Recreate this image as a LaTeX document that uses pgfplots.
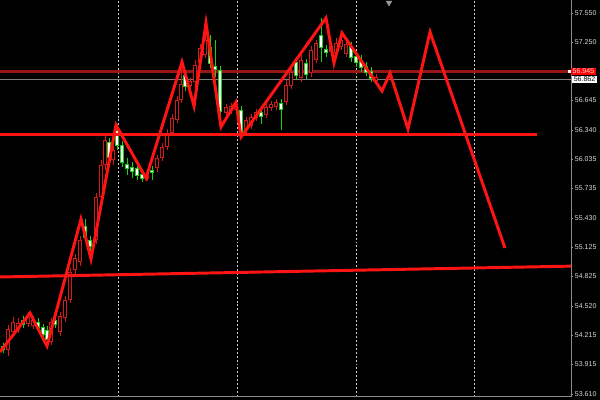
\documentclass[border=0pt]{standalone}
\usepackage{fontspec}
\setmainfont{Liberation Sans}
\usepackage{pgfplots}
\usepackage{pgfplotstable}
\pgfplotsset{compat=1.18}

\definecolor{zz}{HTML}{FF1414}
\definecolor{cred}{HTML}{D41A1A}
\definecolor{cgreen}{HTML}{14D214}
\definecolor{asklevel}{RGB}{150,22,22}

% bullish bars (red outline, black body)
\pgfplotstableread{
x   o      h      l      c
8   54.065 54.323 54.003 54.282
13  54.251 54.406 54.220 54.354
18  54.271 54.396 54.240 54.344
28  54.334 54.458 54.303 54.406
33  54.313 54.416 54.282 54.375
51  54.147 54.396 54.116 54.354
60  54.251 54.458 54.209 54.416
65  54.396 54.623 54.354 54.582
70  54.582 54.913 54.551 54.871
75  54.892 55.057 54.851 55.016
80  54.975 55.244 54.933 55.202
96  55.202 55.688 55.161 55.647
101 55.647 56.029 55.616 55.978
105 55.978 56.278 55.926 56.236
113 56.030 56.174 55.978 56.133
147 55.833 55.905 55.812 55.874
157 55.947 56.081 55.905 56.050
162 56.050 56.205 56.019 56.164
167 56.164 56.350 56.133 56.309
172 56.309 56.505 56.278 56.464
177 56.443 56.691 56.412 56.650
181 56.650 57.043 56.619 56.815
190 56.795 56.877 56.764 56.846
195 56.836 57.064 56.588 57.012
200 57.033 57.229 57.001 57.188
205 57.115 57.374 57.084 57.270
226 56.515 56.609 56.484 56.577
231 56.536 56.619 56.505 56.588
236 56.546 56.629 56.515 56.598
246 56.340 56.474 56.298 56.443
251 56.381 56.505 56.350 56.474
256 56.464 56.557 56.433 56.526
266 56.495 56.609 56.464 56.577
271 56.567 56.640 56.536 56.609
276 56.577 56.660 56.546 56.629
286 56.629 56.857 56.598 56.805
291 56.795 56.991 56.764 56.939
301 56.877 57.115 56.836 57.064
311 56.929 57.208 56.888 57.167
316 57.064 57.270 57.033 57.239
331 57.146 57.250 57.115 57.208
336 57.136 57.291 57.105 57.239
341 57.198 57.312 57.167 57.270
346 57.126 57.270 57.095 57.229
376 56.846 56.919 56.815 56.888
}\upbars

% bearish bars (white body, green wick)
\pgfplotstableread{
x   o      h      l      c
3   54.106 54.137 54.034 54.065
23  54.375 54.416 54.292 54.323
38  54.354 54.396 54.261 54.292
43  54.303 54.334 54.189 54.220
47  54.271 54.313 54.106 54.168
55  54.375 54.416 54.292 54.323
85  55.347 55.419 55.181 55.223
90  55.202 55.244 55.016 55.130
109 56.216 56.257 56.009 56.050
117 56.340 56.402 56.133 56.174
122 56.185 56.226 55.957 55.998
127 55.988 56.050 55.874 55.936
132 55.957 56.009 55.843 55.905
137 55.947 55.988 55.823 55.864
142 55.885 55.926 55.802 55.833
152 55.926 55.967 55.823 55.895
185 56.908 56.960 56.743 56.784
210 57.198 57.322 56.981 57.022
215 57.001 57.270 56.888 56.960
220 56.960 57.001 56.495 56.526
241 56.546 56.588 56.267 56.298
261 56.526 56.567 56.402 56.474
281 56.619 56.660 56.340 56.546
296 57.043 57.084 56.857 56.898
306 57.033 57.074 56.867 56.908
321 57.322 57.498 57.043 57.188
326 57.177 57.219 57.095 57.136
351 57.208 57.250 57.043 57.084
356 57.105 57.146 56.991 57.033
361 57.064 57.115 56.939 56.981
366 57.001 57.043 56.898 56.929
371 56.950 56.991 56.836 56.867
}\downbars

\begin{document}
\begin{tikzpicture}
\useasboundingbox (0,0) rectangle (15cm,10cm);
\fill[black] (0,0) rectangle (15cm,10cm);
\begin{axis}[
  at={(0,0.075cm)}, anchor=south west,
  scale only axis, width=14.275cm, height=9.925cm,
  xmin=0, xmax=571, ymin=53.579, ymax=57.684,
  axis x line*=bottom, axis y line*=right,
  axis line style={white!55!black, line width=0.7pt},
  xtick={118,237,356,474}, xticklabels={}, xmajorgrids,
  x tick style={draw=none},
  grid style={white!80!black, dash pattern=on 1.4pt off 1.4pt, line width=0.7pt},
  ytick={53.610,53.915,54.215,54.520,54.825,55.125,55.430,55.735,56.035,56.340,56.645,57.250,57.550},
  yticklabels={53.610,53.915,54.215,54.520,54.825,55.125,55.430,55.735,56.035,56.340,56.645,57.250,57.550},
  y tick style={white!60!black, line width=0.5pt},
  tick align=outside, major tick length=1.6pt,
  yticklabel style={font=\fontsize{5}{6}\selectfont, text=white!85!black, inner sep=1pt},
]
% price level lines
\addplot[draw=white!50!black, line width=0.8pt] coordinates {(0,56.862) (571,56.862)};
\addplot[draw=asklevel, line width=1.5pt] coordinates {(0,56.945) (571,56.945)};

% wicks
\addplot[cred, line width=0.7pt, quiver={u=0, v={\thisrow{h}-\thisrow{l}}}] table[x=x, y=l] {\upbars};
\addplot[cgreen, line width=0.7pt, quiver={u=0, v={\thisrow{h}-\thisrow{l}}}] table[x=x, y=l] {\downbars};
% bodies
\addplot[cred, line width=2.5pt, quiver={u=0, v={\thisrow{c}-\thisrow{o}}}] table[x=x, y=o] {\upbars};
\addplot[black, line width=1.1pt, quiver={u=0, v={\thisrow{c}-\thisrow{o}},
  every arrow/.append style={shorten >=0.6pt, shorten <=0.6pt}}] table[x=x, y=o] {\upbars};
\addplot[cgreen, line width=2.5pt, quiver={u=0, v={\thisrow{c}-\thisrow{o}}}] table[x=x, y=o] {\downbars};
\addplot[white, line width=1.5pt, quiver={u=0, v={\thisrow{c}-\thisrow{o}},
  every arrow/.append style={shorten >=0.4pt, shorten <=0.4pt}}] table[x=x, y=o] {\downbars};

% support / trend lines
\addplot[zz, line width=2.1pt] coordinates {(0,56.298) (537,56.298)};
\addplot[zz, line width=2.1pt] coordinates {(0,54.820) (571,54.932)};

% zigzag
\addplot[zz, line width=2.1pt, line join=miter] coordinates {
(0,54.044) (30,54.447) (47,54.106) (81,55.419) (91,55.006) (116,56.391)
(146,55.843) (182,57.043) (194,56.588) (206,57.446) (221,56.371) (236,56.629)
(241,56.267) (326,57.498) (334,57.033) (342,57.343) (382,56.743) (390,56.929)
(408,56.350) (430,57.353) (505,55.119)};

% top marker
\addplot[only marks, mark=triangle*, mark size=2.2pt,
  mark options={rotate=180, fill=white!60!black, draw=white!60!black}] coordinates {(389,57.655)};

\coordinate (ask) at (axis cs:571,56.945);
\coordinate (bid) at (axis cs:571,56.862);
\end{axis}
\fill[white] ([xshift=-2.4pt,yshift=-1pt]ask) rectangle ([yshift=1pt]ask);
\node[fill=red, text=white!85!red, font=\fontsize{5}{6}\selectfont, inner sep=1pt,
  minimum height=5.6pt, anchor=west] at (ask) {56.945};
\node[fill=white, text=black, font=\fontsize{5}{6}\selectfont, inner sep=1pt,
  minimum height=5.6pt, anchor=west] at ([xshift=0.8pt]bid) {56.862};
\end{tikzpicture}
\end{document}
